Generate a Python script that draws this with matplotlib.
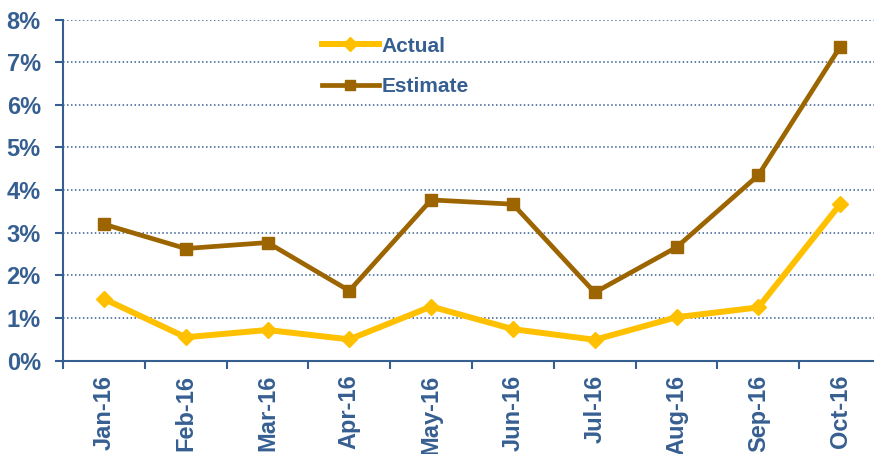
import numpy as np
import matplotlib
matplotlib.use("Agg")
import matplotlib.pyplot as plt
from matplotlib.ticker import FixedLocator, PercentFormatter

# data
months = ["Jan-16", "Feb-16", "Mar-16", "Apr-16", "May-16",
          "Jun-16", "Jul-16", "Aug-16", "Sep-16", "Oct-16"]
actual = [1.45, 0.55, 0.72, 0.50, 1.27, 0.74, 0.49, 1.02, 1.25, 3.67]
estimate = [3.20, 2.63, 2.77, 1.64, 3.77, 3.67, 1.60, 2.66, 4.35, 7.36]

blue = "#365F91"
plt.rcParams["font.family"] = ["Liberation Sans", "DejaVu Sans"]
plt.rcParams["font.weight"] = "bold"

fig = plt.figure(figsize=(8.74, 4.54), dpi=100)
ax = fig.add_axes([0.0721, 0.2055, 0.936, 0.7515])

x = np.arange(len(months))
ax.plot(x, actual, color="#FFC000", lw=4.3, marker="D", ms=8,
        label="Actual", zorder=3)
ax.plot(x, estimate, color="#9C6500", lw=3.4, marker="s", ms=8,
        label="Estimate", zorder=3)

ax.set_xlim(-0.5, len(months) - 0.5)
ax.set_ylim(0, 8)
ax.set_yticks(range(0, 9))
ax.yaxis.set_major_formatter(PercentFormatter(decimals=0))

# tick marks at category edges, labels at centers
ax.xaxis.set_major_locator(FixedLocator(np.arange(-0.5, len(months), 1.0)))
ax.xaxis.set_minor_locator(FixedLocator(x))
ax.set_xticklabels([], minor=False)
ax.set_xticklabels(months, minor=True, rotation=90)
ax.tick_params(axis="x", which="major", direction="out", length=6,
               width=1.5, color=blue)
ax.tick_params(axis="x", which="minor", length=0, pad=10,
               labelsize=17, labelcolor=blue)
ax.tick_params(axis="y", direction="out", length=6, width=1.5, color=blue,
               pad=10, labelsize=17, labelcolor=blue)

for s in ["top", "right"]:
    ax.spines[s].set_visible(False)
for s in ["left", "bottom"]:
    ax.spines[s].set_color(blue)
    ax.spines[s].set_linewidth(1.5)

ax.yaxis.grid(True, linestyle=(0, (1, 1.6)), color=blue, lw=1.1)
ax.set_axisbelow(True)

leg = ax.legend(loc="upper left", bbox_to_anchor=(0.294, 1.005),
                frameon=False, fontsize=15, labelcolor=blue,
                handlelength=2.7, handletextpad=0.15, labelspacing=1.05)
for h in leg.legend_handles:
    h.set_markersize(7)

fig.savefig("out.png", dpi=100)
